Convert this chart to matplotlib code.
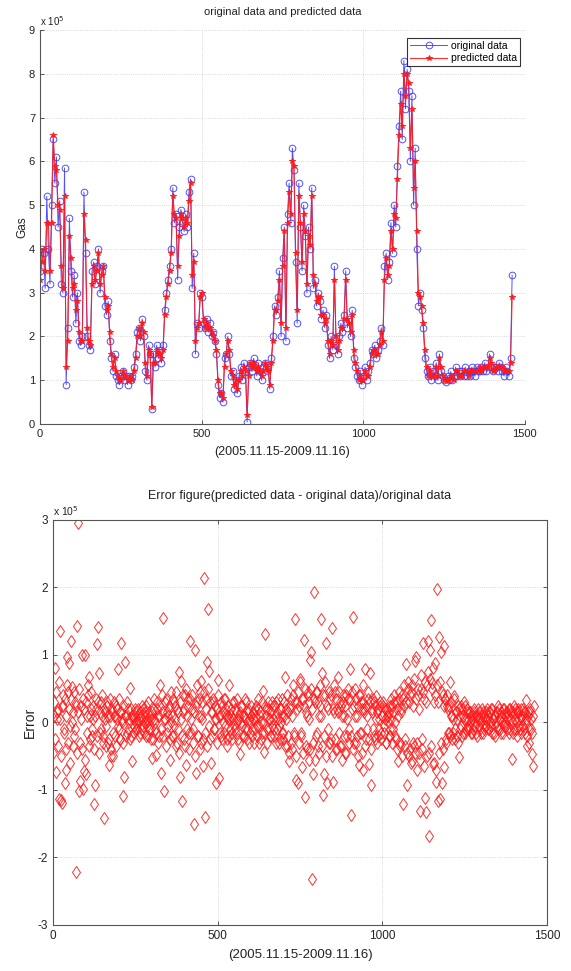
import numpy as np
import matplotlib
matplotlib.use('Agg')
import matplotlib.pyplot as plt

plt.rcParams['font.family'] = ['Liberation Sans', 'DejaVu Sans']
plt.rcParams['axes.unicode_minus'] = False

# ---- data (units of 1e5), sampled every 5 days for the series, every 3 days for the error ----
original_data = [
    3.5, 4.0, 3.9, 3.1, 5.2, 4.0, 3.2, 5.0, 6.5, 5.5, 6.1, 4.5, 5.1, 3.2, 3.0, 5.85, 0.9, 2.2, 4.7, 3.5,
    2.9, 3.4, 2.3, 3.0, 1.9, 1.8, 2.0, 5.3, 3.9, 2.0, 1.8, 1.7, 3.5, 3.7, 3.2, 3.6, 4.0, 3.0, 3.5, 3.6,
    2.7, 2.5, 2.8, 1.9, 1.5, 1.2, 1.6, 1.1, 1.0, 0.9, 1.1, 1.2, 1.0, 1.1, 0.9, 1.1, 1.0, 1.1, 1.3, 1.6,
    2.1, 2.2, 1.9, 2.4, 2.0, 1.2, 1.0, 1.8, 1.6, 0.35, 1.6, 1.3, 1.8, 1.5, 1.7, 1.4, 1.8, 2.6, 3.0, 3.3,
    3.6, 4.0, 5.4, 4.6, 4.8, 3.3, 4.5, 4.9, 4.6, 4.4, 4.8, 4.5, 5.3, 5.6, 3.1, 3.9, 1.6, 2.3, 2.2, 3.0,
    2.9, 2.3, 2.2, 2.4, 2.1, 2.3, 2.0, 2.1, 1.9, 1.6, 0.9, 0.6, 0.7, 0.5, 1.5, 1.6, 2.0, 1.6, 1.1, 1.2,
    0.8, 1.0, 0.7, 1.1, 1.3, 1.0, 1.4, 1.2, 0.05, 1.3, 1.4, 1.2, 1.5, 1.3, 1.1, 1.4, 1.2, 1.0, 1.3, 1.4,
    1.2, 1.3, 0.8, 1.5, 2.0, 2.7, 2.5, 2.9, 3.5, 2.0, 3.8, 4.5, 1.9, 4.8, 5.5, 4.6, 6.3, 5.8, 3.7, 2.3,
    5.5, 4.5, 3.5, 5.0, 4.3, 3.0, 4.5, 4.0, 5.4, 3.1, 3.3, 2.7, 3.0, 2.8, 2.4, 2.6, 2.2, 2.5, 1.8, 1.5,
    2.0, 1.7, 3.6, 1.8, 1.6, 2.0, 2.3, 2.1, 2.5, 3.5, 2.2, 2.4, 2.0, 2.6, 1.5, 1.3, 1.1, 1.0, 1.2, 0.9,
    1.1, 1.3, 1.0, 1.2, 1.4, 1.7, 1.6, 1.8, 1.5, 1.7, 1.9, 2.2, 1.8, 3.6, 3.9, 3.3, 3.7, 4.6, 3.9, 5.0,
    4.5, 5.9, 6.8, 7.6, 6.5, 8.3, 7.2, 8.1, 7.6, 6.0, 7.5, 5.0, 6.3, 4.0, 2.7, 3.0, 2.6, 2.2, 1.5, 1.2,
    1.1, 1.3, 1.0, 1.2, 1.1, 1.4, 1.0, 1.6, 1.2, 1.1, 1.0, 0.95, 1.1, 1.0, 1.2, 1.0, 1.1, 1.3, 1.1, 1.2,
    1.1, 1.2, 1.1, 1.3, 1.1, 1.2, 1.1, 1.3, 1.2, 1.1, 1.3, 1.2, 1.2, 1.3, 1.2, 1.4, 1.2, 1.3, 1.6, 1.3,
    1.2, 1.3, 1.3, 1.2, 1.4, 1.3, 1.2, 1.1, 1.3, 1.2, 1.1, 1.5, 3.4,
]

predicted_data = [
    3.3, 3.7, 4.0, 3.5, 4.6, 4.6, 3.5, 4.6, 6.6, 5.9, 5.8, 5.0, 4.9, 3.6, 3.1, 5.2, 1.3, 1.9, 4.3, 3.8,
    3.1, 3.2, 2.6, 2.8, 2.1, 1.9, 1.9, 4.8, 4.2, 2.2, 1.9, 1.8, 3.2, 3.6, 3.3, 3.5, 3.9, 3.2, 3.4, 3.6,
    2.9, 2.6, 2.7, 2.1, 1.6, 1.3, 1.5, 1.2, 1.1, 1.0, 1.0, 1.2, 1.1, 1.1, 1.0, 1.0, 1.1, 1.0, 1.2, 1.5,
    2.0, 2.2, 2.0, 2.3, 2.1, 1.4, 1.1, 1.7, 1.6, 0.4, 1.4, 1.4, 1.7, 1.6, 1.6, 1.5, 1.7, 2.5, 2.9, 3.2,
    3.5, 3.9, 5.2, 4.8, 4.7, 3.6, 4.3, 4.8, 4.7, 4.5, 4.7, 4.6, 5.1, 5.5, 3.4, 3.7, 1.9, 2.2, 2.3, 2.9,
    3.0, 2.4, 2.2, 2.3, 2.2, 2.2, 2.1, 2.0, 1.9, 1.7, 1.0, 0.7, 0.7, 0.6, 1.3, 1.6, 1.9, 1.7, 1.2, 1.1,
    0.9, 1.0, 0.8, 1.0, 1.2, 1.1, 1.3, 1.2, 0.2, 1.1, 1.4, 1.3, 1.4, 1.3, 1.2, 1.3, 1.2, 1.1, 1.2, 1.4,
    1.3, 1.2, 0.9, 1.4, 1.9, 2.6, 2.6, 2.8, 3.3, 2.3, 3.6, 4.4, 2.2, 4.6, 5.3, 4.8, 6.0, 5.9, 3.9, 2.6,
    5.2, 4.6, 3.7, 4.8, 4.4, 3.2, 4.3, 4.1, 5.2, 3.4, 3.2, 2.8, 2.9, 2.9, 2.5, 2.5, 2.3, 2.4, 1.9, 1.6,
    1.9, 1.8, 3.3, 2.0, 1.7, 1.9, 2.2, 2.2, 2.4, 3.3, 2.4, 2.3, 2.1, 2.5, 1.7, 1.4, 1.2, 1.0, 1.1, 1.0,
    1.0, 1.2, 1.1, 1.1, 1.3, 1.6, 1.7, 1.7, 1.6, 1.6, 1.8, 2.1, 1.9, 3.3, 3.8, 3.4, 3.6, 4.4, 4.0, 4.8,
    4.7, 5.6, 6.6, 7.3, 6.8, 8.0, 7.5, 8.0, 7.8, 6.3, 7.2, 5.4, 6.0, 4.4, 3.0, 2.9, 2.7, 2.3, 1.7, 1.3,
    1.1, 1.2, 1.1, 1.1, 1.1, 1.3, 1.1, 1.5, 1.3, 1.1, 1.0, 1.0, 1.0, 1.0, 1.1, 1.1, 1.0, 1.2, 1.2, 1.1,
    1.1, 1.1, 1.2, 1.2, 1.2, 1.1, 1.2, 1.2, 1.2, 1.2, 1.2, 1.2, 1.3, 1.2, 1.3, 1.3, 1.3, 1.3, 1.5, 1.4,
    1.2, 1.2, 1.3, 1.3, 1.3, 1.3, 1.3, 1.2, 1.2, 1.2, 1.2, 1.4, 2.9,
]

# errors on days 1, 4, 7, ...
error_data = [
    -0.45, 0.10, 0.80, -0.73, 0.05, 0.20, -1.14, 1.35, -1.15, -1.20, 0.25, -0.10, -0.90, -0.71, 0.97, 0.45, 0.88, -0.05, 1.21, 0.52,
    0.15, -0.20, 0.30, -2.22, 1.43, 2.95, -1.01, -0.86, 0.25, 1.00, -0.98, -0.72, 1.00, -0.77, 0.10, 0.56, 0.68, -0.25, 0.20, -0.10,
    0.05, -1.21, -0.93, 0.20, 1.16, 1.41, 0.74, -0.15, 0.30, 0.10, -0.20, -1.41, 0.15, -0.05, 0.25, -0.30, -0.63, 0.10, -0.50, 0.20,
    -0.50, 0.10, -0.20, 0.25, 0.05, 0.79, -0.10, 0.15, -0.25, 1.18, 0.05, -1.09, -0.81, 0.90, 0.10, -0.15, 0.20, 0.00, 0.51, -0.20,
    -0.57, 0.10, -0.05, 0.15, 0.00, -0.10, 0.20, 0.05, -0.15, 0.10, 0.25, -0.05, 0.00, 0.15, -0.20, 0.05, 0.30, -0.10, 0.10, -0.25,
    -0.52, 0.20, 0.05, -0.10, -0.48, 0.30, 0.10, -0.20, 0.55, -0.75, 0.15, 1.55, -1.02, 0.05, 0.35, -0.15, 0.10, 0.25, -0.55, 0.00,
    0.10, -0.20, 0.30, 0.05, -0.35, 0.20, -0.10, 0.75, -0.81, 0.61, -1.17, 0.15, -0.25, 0.40, -0.63, 0.10, 0.35, -0.15, 1.21, 0.05,
    0.20, -0.10, -1.51, 1.08, -0.75, 0.30, -0.20, 0.10, 0.45, -0.30, 0.61, 0.05, -0.65, 2.14, -1.40, 0.35, 0.90, 1.68, 0.76, -0.25,
    -0.60, 0.15, 0.30, -0.10, 0.05, -0.89, 0.20, 0.63, -0.83, 0.10, -0.20, 0.25, 0.00, -0.15, 0.35, 0.10, -0.25, 0.05, 0.55, -0.10,
    0.20, -0.15, 0.05, 0.30, -0.10, 0.15, 0.00, -0.25, 0.10, -0.47, 0.25, -0.05, 0.10, -0.20, 0.35, 0.05, -0.10, 0.20, -0.30, 0.00,
    0.10, -0.20, 0.15, 0.05, -0.10, 0.25, -0.05, 0.20, -0.30, 0.10, 0.00, -0.15, 0.46, -0.44, 1.31, 0.20, -0.10, 0.30, 0.05, -0.20,
    0.15, -0.05, 0.25, -0.20, 0.10, 0.30, -0.10, 0.05, -0.30, 0.20, 0.00, -0.15, 0.35, -0.25, 0.10, 0.68, 0.20, -0.35, 0.15, -0.57,
    0.20, -0.30, 0.10, 0.40, -0.15, 1.53, -0.85, 0.30, -0.90, 0.25, 0.65, -0.20, -0.66, 0.35, 1.22, -1.10, 0.15, -0.40, 0.45, 0.05,
    0.93, 1.05, -2.32, -0.77, 1.93, 0.30, -0.20, 0.45, -0.35, 0.10, 0.25, 1.53, 0.74, -1.08, -0.77, 0.40, 1.17, -0.89, 0.20, -0.30,
    0.35, -0.25, 1.40, -0.88, 0.15, 0.45, -0.40, 0.20, 0.67, -0.15, 0.30, -0.35, 0.10, 0.40, -0.20, 0.25, -0.45, 0.05, 0.35, -0.10,
    0.79, -1.37, 0.20, 1.56, -0.30, 0.10, 0.35, -0.20, 0.25, -0.63, 0.40, -0.15, 0.20, 0.30, -0.70, 0.15, 0.79, -0.25, 0.10, 0.35,
    -0.61, 0.74, -0.92, 0.20, -0.10, 0.30, -0.25, 0.39, 0.15, -0.20, 0.05, 0.25, -0.15, 0.10, 0.30, -0.05, 0.20, -0.30, 0.10, 0.00,
    0.15, -0.20, 0.05, 0.25, -0.10, 0.30, 0.00, -0.25, 0.20, -0.57, 0.35, -0.30, 0.15, 0.40, -1.21, 0.25, -0.35, 0.87, -0.92, 0.49,
    0.30, -0.40, 0.45, -0.57, 0.25, -0.35, 0.91, 0.97, -0.30, 0.40, -0.45, -1.31, 0.50, -0.25, 1.17, 0.35, -1.12, -1.33, 0.55, 1.20,
    -1.68, 1.07, 1.52, 0.59, -0.62, 0.30, 0.88, -0.88, 1.98, -1.16, 1.27, -1.13, 1.05, -0.89, 0.40, 1.14, -0.66, 0.35, -0.30, 0.25,
    0.20, -0.15, 0.60, 0.10, -0.25, 0.05, 0.39, -0.10, 0.15, -0.20, 0.25, -0.51, 0.10, -0.05, 0.20, -0.15, 0.05, 0.25, -0.10, 0.15,
    0.05, -0.10, 0.15, 0.00, -0.15, 0.10, 0.20, -0.05, 0.10, -0.20, 0.05, 0.15, -0.10, 0.00, 0.20, -0.15, 0.10, -0.05, 0.15, 0.05,
    -0.10, 0.15, 0.00, 0.20, -0.15, 0.05, 0.10, -0.20, 0.15, -0.05, 0.25, 0.05, -0.10, 0.15, 0.00, -0.15, 0.20, 0.10, -0.05, 0.15,
    0.10, -0.15, 0.20, 0.05, -0.54, 0.15, -0.10, 0.20, 0.00, -0.20, 0.15, 0.05, -0.10, 0.20, 0.10, -0.05, 0.15, -0.15, 0.05, 0.33,
    -0.35, 0.10, -0.30, 0.15, -0.10, -0.46, -0.64,
]

# errors on days 2, 5, 8, ... (the dense band around zero)
error_data_b = [
    0.30, -0.25, 0.45, 0.15, -0.35, 0.60, 0.05, -0.50, 0.25, 0.40, -0.15, 0.35, -0.40, 0.10, 0.55, -0.30, 0.20, -0.60, 0.35, 0.00,
    -0.35, 0.45, -0.10, 0.25, -0.45, 0.15, 0.50, -0.30, 0.05, -0.40, 0.35, 0.20, -0.55, 0.30, -0.15, 0.40, -0.35, 0.10, 0.45, -0.20,
    0.25, -0.40, 0.10, 0.35, -0.20, 0.30, -0.45, 0.15, -0.10, 0.40, -0.30, 0.20, 0.05, -0.35, 0.30, 0.10, -0.25, 0.35, -0.40, 0.15,
    -0.15, 0.30, 0.10, -0.35, 0.20, -0.05, 0.35, -0.25, 0.15, 0.00, -0.30, 0.25, 0.10, -0.20, 0.30, -0.10, 0.05, -0.25, 0.20, 0.10,
    0.05, -0.15, 0.20, -0.10, 0.10, 0.00, -0.20, 0.15, 0.05, -0.10, 0.20, -0.15, 0.10, 0.25, -0.05, 0.00, -0.20, 0.15, -0.10, 0.05,
    0.15, -0.25, 0.35, 0.00, -0.15, 0.20, -0.30, 0.10, 0.25, -0.10, 0.40, -0.20, 0.05, 0.30, -0.35, 0.15, -0.05, 0.20, -0.25, 0.45,
    -0.20, 0.35, -0.05, 0.25, 0.45, -0.30, 0.15, -0.45, 0.30, 0.05, -0.20, 0.40, 0.20, -0.35, 0.50, -0.10, 0.25, -0.40, 0.35, -0.15,
    0.40, -0.30, 0.15, -0.50, 0.25, 0.55, -0.20, 0.35, -0.40, 0.10, 0.30, -0.25, 0.45, -0.15, 0.20, -0.35, 0.50, -0.05, 0.30, 0.15,
    -0.20, 0.35, -0.10, 0.25, 0.05, -0.30, 0.40, 0.10, -0.15, 0.30, -0.25, 0.15, 0.35, -0.05, 0.20, -0.35, 0.10, 0.25, -0.20, 0.05,
    0.10, -0.25, 0.30, -0.05, 0.20, -0.15, 0.35, 0.05, -0.30, 0.15, 0.00, 0.25, -0.20, 0.10, -0.10, 0.30, -0.25, 0.15, 0.05, -0.15,
    0.25, -0.10, 0.05, -0.30, 0.20, 0.10, -0.20, 0.35, -0.05, 0.15, -0.25, 0.30, 0.00, -0.15, 0.25, 0.10, -0.30, 0.20, -0.10, 0.05,
    -0.20, 0.30, 0.05, -0.10, 0.25, -0.30, 0.15, 0.35, -0.05, -0.25, 0.20, 0.10, -0.15, 0.30, -0.35, 0.05, 0.40, -0.20, -0.45, 0.25,
    0.35, -0.40, 0.55, -0.20, 0.30, -0.50, 0.20, 0.45, -0.30, 0.60, -0.15, 0.35, -0.45, 0.25, 0.50, -0.35, 0.10, 0.40, -0.55, 0.30,
    -0.40, 0.50, 0.20, -0.30, 0.35, -0.55, 0.45, -0.15, 0.30, -0.45, 0.55, 0.10, -0.35, 0.40, -0.20, 0.60, -0.50, 0.25, -0.10, 0.45,
    -0.30, 0.40, -0.50, 0.20, 0.55, -0.25, 0.35, -0.40, 0.15, 0.45, -0.35, 0.25, -0.55, 0.30, 0.10, -0.45, 0.40, -0.20, 0.50, -0.30,
    0.35, -0.20, 0.45, -0.40, 0.25, 0.50, -0.30, 0.10, -0.50, 0.40, -0.15, 0.30, -0.45, 0.55, 0.20, -0.35, 0.25, -0.10, 0.45, -0.25,
    0.30, -0.40, 0.15, 0.35, -0.20, 0.25, 0.05, -0.30, 0.20, -0.10, 0.30, -0.25, 0.10, 0.25, -0.15, 0.05, -0.30, 0.20, 0.10, -0.20,
    0.25, -0.10, 0.35, -0.30, 0.15, 0.40, -0.20, 0.30, -0.40, 0.10, 0.45, -0.35, 0.20, -0.50, 0.35, 0.55, -0.25, 0.30, -0.45, 0.60,
    -0.50, 0.40, -0.60, 0.55, -0.30, 0.65, -0.45, 0.35, -0.70, 0.50, 0.20, -0.55, 0.70, -0.40, 0.45, -0.65, 0.60, 0.30, -0.50, 0.75,
    -0.45, 0.65, -0.35, 0.50, 0.80, -0.60, 0.40, -0.70, 0.55, 0.30, -0.45, 0.60, -0.30, 0.45, -0.40, 0.25, 0.35, -0.25, 0.40, -0.15,
    0.25, -0.20, 0.30, 0.10, -0.15, 0.35, -0.25, 0.15, 0.05, -0.30, 0.20, -0.10, 0.25, -0.20, 0.10, 0.30, -0.15, 0.05, 0.20, -0.10,
    -0.05, 0.15, -0.15, 0.10, 0.05, -0.10, 0.15, 0.00, -0.15, 0.10, 0.20, -0.05, 0.05, -0.15, 0.10, 0.15, -0.10, 0.05, -0.05, 0.20,
    0.10, -0.10, 0.15, -0.05, 0.20, 0.05, -0.15, 0.10, 0.00, 0.15, -0.10, 0.20, 0.05, -0.15, 0.10, 0.20, -0.05, 0.00, 0.15, -0.10,
    0.05, 0.20, -0.10, 0.15, 0.00, -0.15, 0.25, 0.05, -0.10, 0.15, 0.20, -0.05, 0.10, -0.15, 0.05, 0.20, -0.10, 0.15, 0.00, -0.20,
    0.15, -0.10, 0.20, 0.05, -0.15, 0.10, 0.25,
]

x_ticks = [0, 500, 1000, 1500]
top_y_ticks = [0, 1, 2, 3, 4, 5, 6, 7, 8, 9]
err_y_ticks = [-3, -2, -1, 0, 1, 2, 3]

days_series = np.arange(len(original_data)) * 5 + 1
days_error = np.arange(len(error_data)) * 3 + 1
days_error_b = np.arange(len(error_data_b)) * 3 + 2

BLUE = '#3333ff'
RED = '#ff1a1a'
TXT = '#222222'

fig = plt.figure(figsize=(5.71, 9.71), dpi=100)

# ---------- top: original vs predicted ----------
ax1 = fig.add_axes([0.070, 0.5633, 0.849, 0.4058])
ax1.plot(days_series, original_data, '-o', color=BLUE, mfc='none', mec=BLUE,
         ms=4.8, mew=0.7, lw=0.7, alpha=0.85, label='original data')
ax1.plot(days_series, predicted_data, '-*', color=RED, mec=RED,
         ms=4.3, mew=0.7, lw=0.8, alpha=0.9, label='predicted data')
ax1.set_xlim(0, 1500)
ax1.set_ylim(0, 9)
ax1.set_xticks(x_ticks)
ax1.set_yticks(top_y_ticks)
ax1.grid(True, linestyle=':', color='#cccccc', linewidth=0.6)
for s in ['top', 'right']:
    ax1.spines[s].set_visible(False)
for s in ['left', 'bottom']:
    ax1.spines[s].set_color('#555555')
    ax1.spines[s].set_linewidth(0.8)
ax1.tick_params(direction='in', length=3, width=0.7, colors='#555555',
                labelcolor=TXT, labelsize=8)
ax1.set_title('original data and predicted data', fontsize=8, color=TXT, pad=11)
ax1.set_xlabel('(2005.11.15-2009.11.16)', fontsize=9, color=TXT, labelpad=5)
ax1.set_ylabel('Gas', fontsize=8.5, color=TXT, labelpad=0)
ax1.text(0.0, 1.005, r'x 10$^5$', transform=ax1.transAxes, fontsize=7,
         color=TXT, ha='left', va='bottom')
leg = ax1.legend(loc='upper right', bbox_to_anchor=(0.995, 0.985), fontsize=7.5,
                 frameon=True, fancybox=False, edgecolor='black',
                 handlelength=3.5, borderpad=0.3, labelspacing=0.2,
                 handletextpad=0.4, borderaxespad=0.2)
leg.get_frame().set_linewidth(0.8)

# ---------- bottom: error ----------
ax2 = fig.add_axes([0.0928, 0.0474, 0.865, 0.4171])
ax2.plot(days_error, error_data, linestyle='none', marker='d', mfc='none',
         mec=RED, ms=6.5, mew=0.7, alpha=0.9)
ax2.plot(days_error_b, error_data_b, linestyle='none', marker='d', mfc='none',
         mec=RED, ms=6.5, mew=0.7, alpha=0.9)
ax2.set_xlim(0, 1500)
ax2.set_ylim(-3, 3)
ax2.set_xticks(x_ticks)
ax2.set_yticks(err_y_ticks)
ax2.grid(True, linestyle=':', color='#cccccc', linewidth=0.6)
for s in ax2.spines.values():
    s.set_color('#555555')
    s.set_linewidth(0.8)
ax2.tick_params(direction='in', length=3, width=0.7, colors='#555555',
                labelcolor=TXT, labelsize=8.5, top=True, right=True)
ax2.set_title('Error figure(predicted data - original data)/original data',
              fontsize=9, color=TXT, pad=15)
ax2.set_xlabel('(2005.11.15-2009.11.16)', fontsize=9.5, color=TXT, labelpad=5)
ax2.set_ylabel('Error', fontsize=10, color=TXT, labelpad=0.5)
ax2.text(0.0, 1.005, r'x 10$^5$', transform=ax2.transAxes, fontsize=7.5,
         color=TXT, ha='left', va='bottom')

fig.savefig('out.png', dpi=100, facecolor='white')
